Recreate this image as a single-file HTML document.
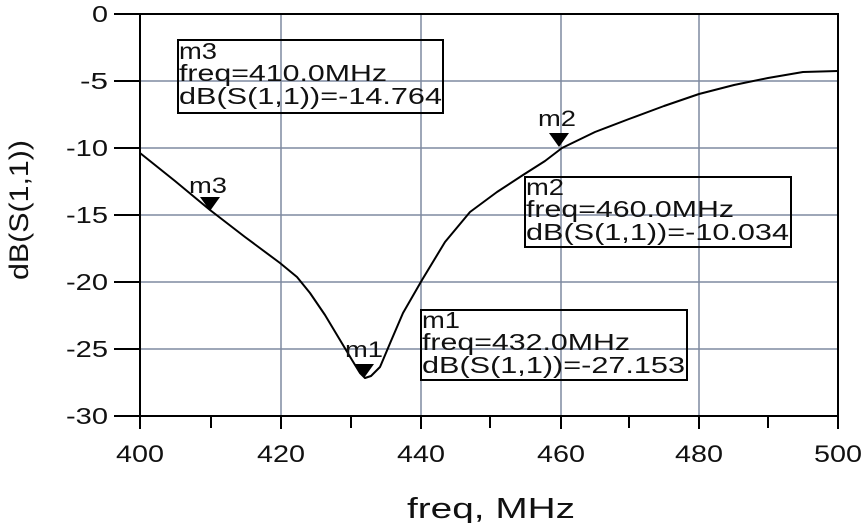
<!DOCTYPE html>
<html><head><style>body{margin:0;background:#fff}svg text{font-family:"Liberation Sans",sans-serif;fill:#111}</style></head>
<body>
<svg width="864" height="523" viewBox="0 0 864 523" xmlns="http://www.w3.org/2000/svg">
<rect width="864" height="523" fill="#fff"/>
<g stroke="#7f8aa0" stroke-width="1.5">
<line x1="281" y1="14" x2="281" y2="416"/><line x1="421" y1="14" x2="421" y2="416"/>
<line x1="561" y1="14" x2="561" y2="416"/><line x1="699" y1="14" x2="699" y2="416"/>
<line x1="140" y1="81" x2="838" y2="81"/><line x1="140" y1="148" x2="838" y2="148"/>
<line x1="140" y1="215" x2="838" y2="215"/><line x1="140" y1="282" x2="838" y2="282"/>
<line x1="140" y1="349" x2="838" y2="349"/>
</g>
<rect x="140" y="14" width="698" height="402" fill="none" stroke="#000" stroke-width="2"/>
<g stroke="#000" stroke-width="2">
<line x1="114" y1="14" x2="140" y2="14"/><line x1="114" y1="81" x2="140" y2="81"/>
<line x1="114" y1="148" x2="140" y2="148"/><line x1="114" y1="215" x2="140" y2="215"/>
<line x1="114" y1="282" x2="140" y2="282"/><line x1="114" y1="349" x2="140" y2="349"/>
<line x1="114" y1="416" x2="140" y2="416"/>
<line x1="140" y1="416" x2="140" y2="429"/><line x1="281" y1="416" x2="281" y2="429"/>
<line x1="421" y1="416" x2="421" y2="429"/><line x1="561" y1="416" x2="561" y2="429"/>
<line x1="699" y1="416" x2="699" y2="429"/><line x1="838" y1="416" x2="838" y2="429"/>
<line x1="211" y1="416" x2="211" y2="428"/><line x1="351" y1="416" x2="351" y2="428"/>
<line x1="490" y1="416" x2="490" y2="428"/><line x1="629" y1="416" x2="629" y2="428"/>
<line x1="768" y1="416" x2="768" y2="428"/>
</g>
<g font-size="23">
<text x="92" y="22" textLength="16" lengthAdjust="spacingAndGlyphs">0</text>
<text x="80" y="89" textLength="28" lengthAdjust="spacingAndGlyphs">-5</text>
<text x="66" y="156" textLength="42" lengthAdjust="spacingAndGlyphs">-10</text>
<text x="66" y="223" textLength="42" lengthAdjust="spacingAndGlyphs">-15</text>
<text x="66" y="290" textLength="42" lengthAdjust="spacingAndGlyphs">-20</text>
<text x="66" y="357" textLength="42" lengthAdjust="spacingAndGlyphs">-25</text>
<text x="66" y="424" textLength="42" lengthAdjust="spacingAndGlyphs">-30</text>
</g>
<g font-size="24">
<text x="116" y="462" textLength="48" lengthAdjust="spacingAndGlyphs">400</text>
<text x="257" y="462" textLength="48" lengthAdjust="spacingAndGlyphs">420</text>
<text x="397" y="462" textLength="48" lengthAdjust="spacingAndGlyphs">440</text>
<text x="537" y="462" textLength="48" lengthAdjust="spacingAndGlyphs">460</text>
<text x="675" y="462" textLength="48" lengthAdjust="spacingAndGlyphs">480</text>
<text x="814" y="462" textLength="48" lengthAdjust="spacingAndGlyphs">500</text>
</g>
<text x="407" y="518" font-size="29" textLength="168" lengthAdjust="spacingAndGlyphs">freq, MHz</text>
<text transform="translate(28,280) rotate(-90)" font-size="27" textLength="140" lengthAdjust="spacingAndGlyphs">dB(S(1,1))</text>
<polyline fill="none" stroke="#000" stroke-width="2" stroke-linejoin="round" points="140,153 175,181 210,210 245,237 280,263 297,277 310,293 325,315 340,340 352,360 360,373 365,378 371,376 380,367 391,341 403,313 422,280 445,242 470,212 497,192 523,175 545,161 562,148 595,132 629,119 664,106 699,94 734,85 768,78 803,72 838,71"/>
<g fill="#000">
<polygon points="200,197 220,197 210,211"/><polygon points="549,133 569,133 559,147"/><polygon points="354,364 374,364 364,378"/>
</g>
<g font-size="22">
<text x="189" y="193" textLength="38" lengthAdjust="spacingAndGlyphs">m3</text>
<text x="538" y="126" textLength="38" lengthAdjust="spacingAndGlyphs">m2</text>
<text x="345" y="357" textLength="38" lengthAdjust="spacingAndGlyphs">m1</text>
</g>
<g fill="none" stroke="#000" stroke-width="2">
<rect x="178" y="40" width="265" height="73"/><rect x="525" y="177" width="266" height="70"/><rect x="421" y="310" width="266" height="70"/>
</g>
<g font-size="23">
<text x="179" y="59" textLength="38" lengthAdjust="spacingAndGlyphs">m3</text>
<text x="179" y="81" textLength="208" lengthAdjust="spacingAndGlyphs">freq=410.0MHz</text>
<text x="179" y="104" textLength="263" lengthAdjust="spacingAndGlyphs">dB(S(1,1))=-14.764</text>
<text x="526" y="195" textLength="38" lengthAdjust="spacingAndGlyphs">m2</text>
<text x="526" y="217" textLength="208" lengthAdjust="spacingAndGlyphs">freq=460.0MHz</text>
<text x="526" y="240" textLength="263" lengthAdjust="spacingAndGlyphs">dB(S(1,1))=-10.034</text>
<text x="422" y="328" textLength="38" lengthAdjust="spacingAndGlyphs">m1</text>
<text x="422" y="350" textLength="208" lengthAdjust="spacingAndGlyphs">freq=432.0MHz</text>
<text x="422" y="373" textLength="263" lengthAdjust="spacingAndGlyphs">dB(S(1,1))=-27.153</text>
</g>
</svg>
</body></html>
